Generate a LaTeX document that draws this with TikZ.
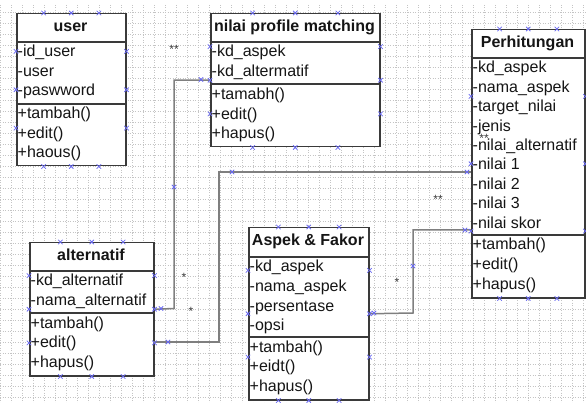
\documentclass[tikz,border=0pt]{standalone}
\usepackage{fontspec}
\setmainfont{Liberation Sans}
\usetikzlibrary{calc}
\definecolor{boxc}{HTML}{3A3A3A}
\definecolor{connc}{HTML}{7F7F7F}
\definecolor{gridc}{HTML}{C4C4C4}
\definecolor{xmc}{HTML}{6A6AF0}
\definecolor{txtc}{HTML}{151515}
\tikzset{
  box/.style={draw=boxc, line width=1.5pt, fill=white, inner sep=0pt, anchor=north west},
  sepline/.style={draw=boxc, line width=1.4pt},
  conn/.style={draw=connc, line width=1.5pt},
  attr/.style={anchor=base west, inner sep=0pt, text=txtc, font=\fontsize{16}{18}\selectfont},
  title/.style={anchor=base, inner sep=0pt, text=txtc, font=\fontsize{16}{18}\selectfont\bfseries},
  mult/.style={anchor=base, inner sep=0pt, text=boxc, font=\fontsize{12}{13}\selectfont},
  xm/.pic={\draw[xmc, line width=0.8pt] (-2.2,-2.2)--(2.2,2.2) (-2.2,2.2)--(2.2,-2.2);}
}
\newcommand\boxmarks[1]{%
  \foreach \f in {0.25,0.5,0.75}{%
    \pic at ($(#1.north west)!\f!(#1.north east)$) {xm};
    \pic at ($(#1.south west)!\f!(#1.south east)$) {xm};
    \pic at ($(#1.north west)!\f!(#1.south west)$) {xm};
    \pic at ($(#1.north east)!\f!(#1.south east)$) {xm};
  }}
\begin{document}
\begin{tikzpicture}[x=1pt,y=-1pt]
\useasboundingbox (0,0) rectangle (586,403);
% grid
\begin{scope}
\clip (0,4) rectangle (586,403);
\foreach \gx in {0,11,...,586}{\draw[gridc, line width=0.6pt, dash pattern=on 1pt off 1.5pt] (\gx,0) -- (\gx,403);}
\foreach \gy in {1.5,12.5,...,403}{\draw[gridc, line width=0.6pt, dash pattern=on 1pt off 1.5pt] (0,\gy) -- (586,\gy);}
\end{scope}

% connectors
\coordinate (altE3) at (153,342);
\coordinate (perhEa) at (471,172);
\coordinate (perhE3) at (471,230);

% ---- user
\node[box, minimum width=109pt, minimum height=152pt] (user) at (16,13) {};
\draw[sepline] (user.west |- 0,42) -- (user.east |- 0,42);
\draw[sepline] (user.west |- 0,104) -- (user.east |- 0,104);
\node[title] (user-t) at (70.5,32) {user};
\foreach \t [count=\i] in {-id\_user,-user,-paswword}{\node[attr] (user-a\i) at (17.5,{57+19.5*(\i-1)}) {\t};}
\foreach \t [count=\i] in {+tambah(),+edit(),+haous()}{\node[attr] (user-m\i) at (17.5,{119+19.5*(\i-1)}) {\t};}

% ---- nilai profile matching
\node[box, minimum width=169pt, minimum height=133pt] (npm) at (210,13) {};
\draw[sepline] (npm.west |- 0,42) -- (npm.east |- 0,42);
\draw[sepline] (npm.west |- 0,84) -- (npm.east |- 0,84);
\node[title] (npm-t) at (294.5,32) {nilai profile matching};
\foreach \t [count=\i] in {-kd\_aspek,-kd\_altermatif}{\node[attr] (npm-a\i) at (211.5,{57+19.5*(\i-1)}) {\t};}
\foreach \t [count=\i] in {+tamabh(),+edit(),+hapus()}{\node[attr] (npm-m\i) at (211.5,{100+19.5*(\i-1)}) {\t};}

% ---- Perhitungan
\node[box, minimum width=113pt, minimum height=268pt] (perh) at (471,29) {};
\draw[sepline] (perh.west |- 0,58) -- (perh.east |- 0,58);
\draw[sepline] (perh.west |- 0,235) -- (perh.east |- 0,235);
\node[title] (perh-t) at (527.5,48) {Perhitungan};
\foreach \t [count=\i] in {-kd\_aspek,-nama\_aspek,-target\_nilai,-jenis,-nilai\_alternatif,-nilai 1,-nilai 2,-nilai 3,-nilai skor}{\node[attr] (perh-a\i) at (472.5,{73+19.4*(\i-1)}) {\t};}
\foreach \t [count=\i] in {+tambah(),+edit(),+hapus()}{\node[attr] (perh-m\i) at (472.5,{250+19.5*(\i-1)}) {\t};}

% ---- alternatif
\node[box, minimum width=124pt, minimum height=133pt] (alt) at (29,242) {};
\draw[sepline] (alt.west |- 0,271) -- (alt.east |- 0,271);
\draw[sepline] (alt.west |- 0,313) -- (alt.east |- 0,313);
\node[title] (alt-t) at (91,261) {alternatif};
\foreach \t [count=\i] in {-kd\_alternatif,-nama\_alternatif}{\node[attr] (alt-a\i) at (30.5,{286+19.5*(\i-1)}) {\t};}
\foreach \t [count=\i] in {+tambah(),+edit(),+hapus()}{\node[attr] (alt-m\i) at (30.5,{328+19.5*(\i-1)}) {\t};}

% ---- Aspek & Fakor
\node[box, minimum width=120pt, minimum height=172pt] (asp) at (248,227) {};
\draw[sepline] (asp.west |- 0,257) -- (asp.east |- 0,257);
\draw[sepline] (asp.west |- 0,337) -- (asp.east |- 0,337);
\node[title] (asp-t) at (308,246) {Aspek \& Fakor};
\foreach \t [count=\i] in {-kd\_aspek,-nama\_aspek,-persentase,-opsi}{\node[attr] (asp-a\i) at (249.5,{272+19.5*(\i-1)}) {\t};}
\foreach \t [count=\i] in {+tambah(),+eidt(),+hapus()}{\node[attr] (asp-m\i) at (249.5,{352+19.5*(\i-1)}) {\t};}

% connector lines
\draw[conn] (alt.east) -- (174,308.5) |- (npm.west);
\draw[conn] (altE3) -- (219,342) |- (perhEa);
\draw[conn] (asp.east) -- (413,313) |- (perhE3);

% multiplicities
\node[mult] (m1) at (174,54) {**};
\node[mult] (m2) at (484,143) {**};
\node[mult] (m3) at (438,204) {**};
\node[mult] (m4) at (184,282) {*};
\node[mult] (m5) at (191,316) {*};
\node[mult] (m6) at (397,287) {*};

% connection marks
\boxmarks{user}
\boxmarks{npm}
\boxmarks{perh}
\boxmarks{alt}
\boxmarks{asp}
\foreach \p in {(161,308.5),(174,187),(201,79.5),(168,342),(232,172),(467,172),(374,313),(413,266),(465,230)}{\pic at \p {xm};}
\end{tikzpicture}
\end{document}
